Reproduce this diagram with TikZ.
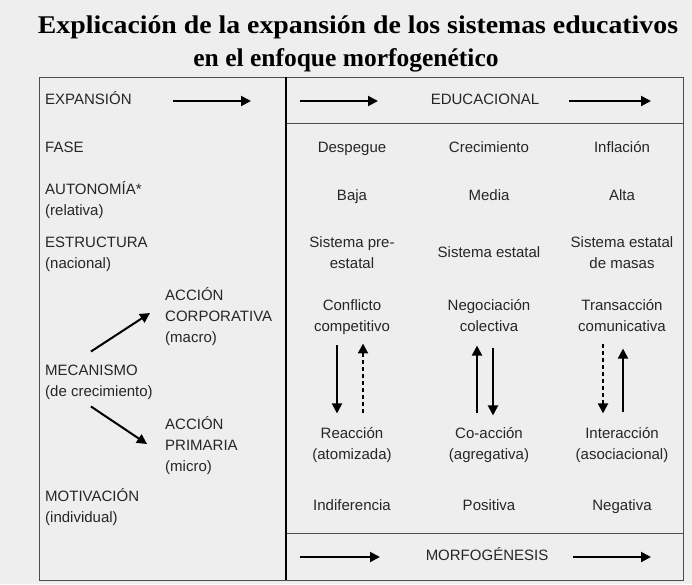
\documentclass[tikz,border=0pt]{standalone}
\usepackage{fontspec}
\setmainfont{Liberation Sans}
\newfontfamily\titlefont{Liberation Serif}
\usetikzlibrary{arrows.meta}

\newcommand{\topstrut}{\rule{0pt}{10.8pt}}
\newcommand{\botstrut}{\rule[-3.2pt]{0pt}{3.2pt}}

\begin{document}
\begin{tikzpicture}[x=1pt,y=-1pt,
    lbl/.style={inner sep=0,anchor=west,align=left,text=black!85,font=\fontsize{15}{21}\selectfont},
    val/.style={inner sep=0,align=center,text=black!85,font=\fontsize{15}{20.5}\selectfont,
        execute at begin node=\topstrut,execute at end node=\botstrut},
    one/.style={text height=10.8pt,text depth=3.2pt},
    ttl/.style={inner sep=0,font=\titlefont\bfseries\fontsize{25.5}{30}\selectfont},
    arr/.style={line width=2pt,-{Triangle[length=10pt,width=10pt]}},
    darr/.style={arr,dash pattern=on 4pt off 3pt},
    frame/.style={draw=black!70,line width=0.9pt},
]
    \fill [gray!13] (0,0) rectangle (692,584);
    \useasboundingbox (0,0) rectangle (692,584);

    \node [ttl] (t1) at (358,27) {\scalebox{1.09}[1]{Explicación de la expansión de los sistemas educativos}};
    \node [ttl] (t2) at (346,60) {en el enfoque morfogenético};

    % frame
    \draw [frame] (39,77) rectangle (683,580);
    \draw [frame] (286,123) -- (683,123);
    \draw [frame] (286,533) -- (683,533);
    \draw [line width=1.6pt] (286,77) -- (286,580);

    % left column
    \node [lbl,one] (exp) at (45,101) {EXPANSIÓN};
    \node [lbl,one] (fase) at (45,149) {FASE};
    \node [lbl] (aut) at (45,200) {AUTONOMÍA*\\(relativa)};
    \node [lbl] (est) at (45,254) {ESTRUCTURA\\(nacional)};
    \node [lbl] (corp) at (165,317) {ACCIÓN\\CORPORATIVA\\(macro)};
    \node [lbl] (mec) at (45,382) {MECANISMO\\(de crecimiento)};
    \node [lbl] (prim) at (165,446) {ACCIÓN\\PRIMARIA\\(micro)};
    \node [lbl] (mot) at (45,507) {MOTIVACIÓN\\(individual)};

    \coordinate (expA) at (173,101);
    \coordinate (expB) at (251,101);
    \draw [arr] (expA) -- (expB);
    \draw [arr] ([xshift=-8pt,yshift=13pt]mec.north) -- ([xshift=-15pt,yshift=4pt]corp.west);
    \draw [arr] ([xshift=-8pt,yshift=-7pt]mec.south) -- ([xshift=-18pt,yshift=2pt]prim.west);

    % top and bottom rows
    \node [val,one] (edu) at (485,101) {EDUCACIONAL};
    \node [val,one] (morf) at (487,557) {MORFOGÉNESIS};
    \coordinate (eduA) at (300,101);
    \coordinate (eduB) at (651,101);
    \coordinate (morfA) at (300,557);
    \coordinate (morfB) at (651,557);
    \draw [arr] (eduA) -- ++(78,0);
    \draw [arr] (eduB) ++(-82,0) -- (eduB);
    \draw [arr] (morfA) -- ++(80,0);
    \draw [arr] (morfB) ++(-78,0) -- (morfB);

    % phases
    \node [val,one] (f1) at (352,149) {Despegue};
    \node [val,one] (f2) at (489,149) {Crecimiento};
    \node [val,one] (f3) at (622,149) {Inflación};

    \node [val,one] (a1) at (352,197) {Baja};
    \node [val,one] (a2) at (489,197) {Media};
    \node [val,one] (a3) at (622,197) {Alta};

    \node [val] (e1) at (352,254) {Sistema pre-\\estatal};
    \node [val,one] (e2) at (489,254) {Sistema estatal};
    \node [val] (e3) at (622,254) {Sistema estatal\\de masas};

    \node [val] (c1) at (352,317) {Conflicto\\competitivo};
    \node [val] (c2) at (489,317) {Negociación\\colectiva};
    \node [val] (c3) at (622,317) {Transacción\\comunicativa};

    \node [val] (r1) at (352,445) {Reacción\\(atomizada)};
    \node [val] (r2) at (489,445) {Co-acción\\(agregativa)};
    \node [val] (r3) at (622,445) {Interacción\\(asociacional)};

    \node [val,one] (m1) at (352,507) {Indiferencia};
    \node [val,one] (m2) at (489,507) {Positiva};
    \node [val,one] (m3) at (622,507) {Negativa};

    % interaction arrows
    \draw [arr,shorten <=11pt,shorten >=14pt] ([xshift=-15pt]c1.south) -- ([xshift=-15pt]r1.north);
    \draw [darr,shorten <=14pt,shorten >=9pt] ([xshift=11pt]r1.north) -- ([xshift=11pt]c1.south);
    \draw [arr,shorten <=14pt,shorten >=11pt] ([xshift=-12pt]r2.north) -- ([xshift=-12pt]c2.south);
    \draw [arr,shorten <=13pt,shorten >=12pt] ([xshift=4pt]c2.south) -- ([xshift=4pt]r2.north);
    \draw [darr,shorten <=9pt,shorten >=14pt] ([xshift=-19pt]c3.south) -- ([xshift=-19pt]r3.north);
    \draw [arr,shorten <=15pt,shorten >=14pt] ([xshift=1pt]r3.north) -- ([xshift=1pt]c3.south);
\end{tikzpicture}
\end{document}
